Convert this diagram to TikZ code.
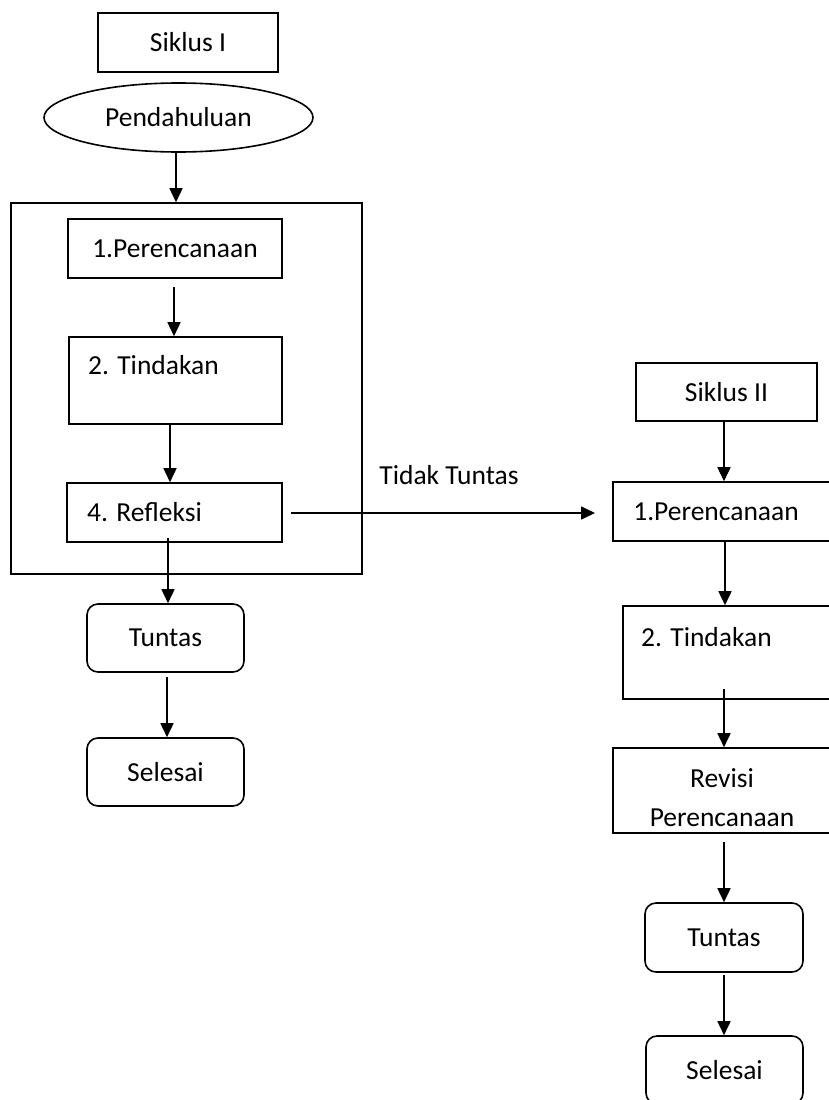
\documentclass[tikz,border=0pt]{standalone}
\usepackage{fontspec}
\setmainfont{Carlito}
\usetikzlibrary{arrows.meta,shapes.geometric}
\begin{document}
\begin{tikzpicture}[x=1pt,y=-1pt,
  every node/.style={font=\fontsize{27.5}{39}\selectfont},
  box/.style={draw,line width=1.6pt,rectangle,inner sep=0pt},
  rbox/.style={draw,line width=1.6pt,rectangle,rounded corners=11pt,inner sep=0pt},
  txt/.style={inner sep=0pt},
  arr/.style={line width=1.6pt,-{Triangle[width=13pt,length=14pt]}}]
\path[fill=white,use as bounding box] (0,0) rectangle (828,1100);
% left column
\node[box,minimum width=180pt,minimum height=59pt] (s1) at (188,42.5) {Siklus I};
\node[draw,line width=1.6pt,ellipse,inner sep=0pt,minimum width=269pt,minimum height=69pt] (e) at (178.5,117.5) {Pendahuluan};
\node[box,minimum width=351pt,minimum height=371pt] (cont) at (186.5,388.5) {};
\node[box,minimum width=214pt,minimum height=59pt] (p1) at (175,248.5) {1.Perencanaan};
\node[box,minimum width=213pt,minimum height=87pt] (t1) at (175.5,380.5) {};
\node[txt,anchor=west] (t1t) at (88,365) {2. Tindakan};
\node[box,minimum width=215pt,minimum height=59pt] (r1) at (174.5,512.5) {};
\node[txt,anchor=west] (r1t) at (87,512) {4. Refleksi};
\node[rbox,minimum width=157pt,minimum height=68pt] (tu1) at (165.5,638) {Tuntas};
\node[rbox,minimum width=157pt,minimum height=68pt] (se1) at (165.5,772) {Selesai};
% right column
\node[box,minimum width=181pt,minimum height=58pt] (s2) at (726.5,392) {Siklus II};
\node[box,minimum width=232pt,minimum height=59pt] (p2) at (729,511.5) {};
\node[txt] (p2t) at (716,512) {1.Perencanaan};
\node[box,minimum width=222pt,minimum height=93pt] (t2) at (734,652.5) {};
\node[txt,anchor=west] (t2t) at (641,637) {2. Tindakan};
\node[box,minimum width=232pt,minimum height=85pt] (rv) at (729,790.5) {};
\node[txt,align=center] (rvt) at (722,797.5) {Revisi\\Perencanaan};
\node[rbox,minimum width=158pt,minimum height=69pt] (tu2) at (724,937.5) {Tuntas};
\node[rbox,minimum width=157pt,minimum height=68pt] (se2) at (724.5,1070) {Selesai};
\node[txt] (tt) at (449,475) {Tidak Tuntas};
% connectors
\coordinate (c0) at (176,152);
\draw[arr] (c0) -- (c0 |- cont.north);
\coordinate (c1) at (174,287);
\draw[arr] (c1) -- (c1 |- t1.north);
\coordinate (c2) at (170,424);
\draw[arr] (c2) -- (c2 |- r1.north);
\coordinate (c3) at (168,538);
\draw[arr] (c3) -- (c3 |- tu1.north);
\coordinate (c4) at (167,677);
\draw[arr] (c4) -- (c4 |- se1.north);
\coordinate (c5) at (291,513);
\coordinate (c5e) at (595,513);
\draw[arr] (c5) -- (c5e);
\coordinate (d1) at (724,421);
\draw[arr] (d1) -- (d1 |- p2.north);
\coordinate (d2) at (725,541);
\draw[arr] (d2) -- (d2 |- t2.north);
\coordinate (d3) at (724,689);
\draw[arr] (d3) -- (d3 |- rv.north);
\coordinate (d4) at (724,842);
\draw[arr] (d4) -- (d4 |- tu2.north);
\coordinate (d5) at (724,975);
\draw[arr] (d5) -- (d5 |- se2.north);
\end{tikzpicture}
\end{document}
